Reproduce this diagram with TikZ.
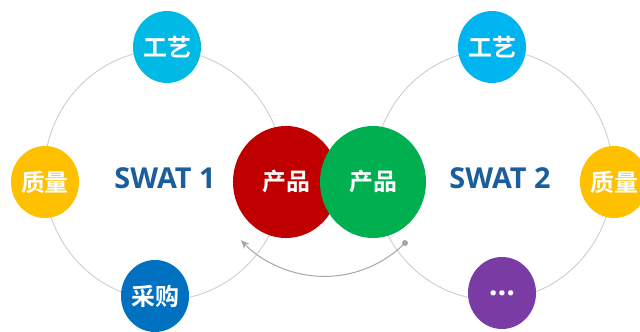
\documentclass[tikz,border=0pt]{standalone}
\usepackage{fontspec}
\setmainfont{Open Sans}
\newfontfamily\cjk{Noto Sans CJK SC}[BoldFont={* Bold}]
\usepackage{tikz}
\usetikzlibrary{arrows.meta,shapes.geometric}
\definecolor{cianoA}{HTML}{00B9E4}
\definecolor{cianoB}{HTML}{00B4EF}
\definecolor{ambar}{HTML}{FFC000}
\definecolor{azulmar}{HTML}{0070C0}
\definecolor{violeta}{HTML}{7A3BA5}
\definecolor{rojo}{HTML}{C00000}
\definecolor{verde}{HTML}{00B050}
\definecolor{tinta}{HTML}{1B5E9B}
\tikzset{
  punto/.style={
    ellipse,
    minimum width=1.7cm,
    minimum height=1.8cm,
    inner sep=0pt,
    text=white,
    font=\cjk\bfseries\fontsize{17}{17}\selectfont
  },
  central/.style={
    ellipse,
    minimum width=2.65cm,
    minimum height=2.8cm,
    inner sep=0pt,
    text=white,
    font=\cjk\bfseries\fontsize{17}{17}\selectfont
  },
  titulo/.style={
    text=tinta,
    font=\bfseries\fontsize{20.5}{20.5}\selectfont
  },
  anillo/.style={
    draw=black!20,
    line width=.6pt
  },
  flecha/.style={
    -{Stealth[length=2.2mm,width=1.8mm]},
    draw=black!35,
    line width=.7pt
  }
}

\begin{document}
\begin{tikzpicture}[x=.025cm,y=.025cm]
\clip (0,0) rectangle (640,331);
\fill[white] (0,0) rectangle (640,331);
% rings
\draw[anillo] (164,156) ellipse [x radius=3cm,y radius=3.125cm];
\draw[anillo] (493,156) ellipse [x radius=3cm,y radius=3.125cm];
% SWAT 1
\node[titulo] (swat1) at (165,153) {SWAT 1};
\node[punto,fill=cianoA] (gy1) at (167,284) {工艺};
\node[punto,fill=ambar] (zl1) at (45,149) {质量};
\node[punto,fill=azulmar] (cg1) at (155,35) {采购};
\node[central,fill=rojo] (cp1) at (286,149) {产品};
% SWAT 2
\node[titulo] (swat2) at (500,153) {SWAT 2};
\node[punto,fill=cianoB] (gy2) at (492,284) {工艺};
\node[punto,fill=ambar] (zl2) at (614,149) {质量};
\node[punto,fill=violeta,font=\bfseries\fontsize{22}{22}\selectfont] (etc2) at (502,38) {...};
\node[central,fill=verde] (cp2) at (373,149) {产品};
% return arrow
\coordinate (ini) at (405,88);
\fill[black!35] (ini) circle (3);
\draw[flecha] (ini) arc[start angle=-45,end angle=-137,radius=2.85cm];
\end{tikzpicture}
\end{document}
